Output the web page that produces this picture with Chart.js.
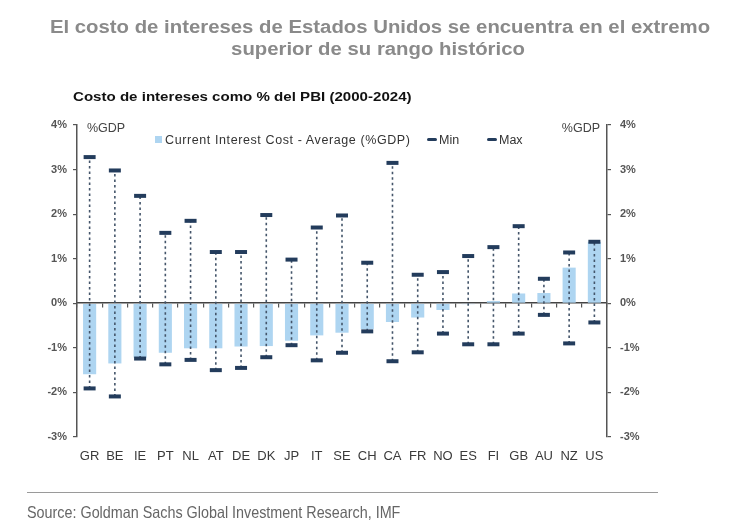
<!DOCTYPE html>
<html>
<head>
<meta charset="utf-8">
<script src="https://cdn.jsdelivr.net/npm/chart.js@4.4.1/dist/chart.umd.min.js"></script>
<style>
  body { margin: 0; background: #fff; font-family: "Liberation Sans", Arial, sans-serif; }
  #wrap { position: relative; width: 730px; height: 521px; overflow: hidden; }
  .t { position: absolute; color: #8a8a8a; font-weight: bold; font-size: 18px; white-space: nowrap;
       transform: translateX(-50%) scaleX(1.13); }
  #t1 { left: 380px; top: 17px; }
  #t2 { left: 378px; top: 39px; }
  #sub { position: absolute; left: 73px; top: 89px; color: #111; font-weight: bold; font-size: 13px;
         white-space: nowrap; transform: scaleX(1.16); transform-origin: left center; }
  #cv { position: absolute; left: 0; top: 0; width: 730px; height: 521px; }
  #legend { position: absolute; top: 133px; left: 155px; font-size: 12.5px; color: #333; white-space: nowrap; }
  #legend span { position: absolute; top: 0; }
  .sq { display: inline-block; width: 7px; height: 7px; background: #aed5f1; margin-right: 3px; vertical-align: 1px; }
  .ds { display: inline-block; width: 10px; height: 3px; border-radius: 1.5px; background: #233c5c; margin-right: 2px; vertical-align: 3px; }
  #rule { position: absolute; left: 27px; top: 492px; width: 631px; height: 0; border-top: 1.5px solid #9a9a9a; }
  #src { position: absolute; left: 27px; top: 503px; color: #666; font-size: 16.5px; white-space: nowrap;
         transform: scaleX(0.87); transform-origin: left center; }
</style>
</head>
<body>
<div id="wrap">
  <div id="cv"><canvas id="myChart"></canvas></div>
  <div class="t" id="t1">El costo de intereses de Estados Unidos se encuentra en el extremo</div>
  <div class="t" id="t2">superior de su rango histórico</div>
  <div id="sub">Costo de intereses como % del PBI (2000-2024)</div>
  <div id="legend">
    <span style="left:0; letter-spacing:0.6px"><i class="sq"></i>Current Interest Cost - Average (%GDP)</span>
    <span style="left:272px"><i class="ds"></i>Min</span>
    <span style="left:332px"><i class="ds"></i>Max</span>
  </div>
  <div id="rule"></div>
  <div id="src">Source: Goldman Sachs Global Investment Research, IMF</div>
</div>
<script>
var countries = ["GR", "BE", "IE", "PT", "NL", "AT", "DE", "DK", "JP", "IT", "SE", "CH", "CA", "FR", "NO", "ES", "FI", "GB", "AU", "NZ", "US"];
var currentVsAvg = [-1.59, -1.35, -1.22, -1.11, -1.01, -1.01, -0.97, -0.96, -0.84, -0.72, -0.66, -0.58, -0.42, -0.32, -0.15, -0.02, 0.05, 0.22, 0.23, 0.80, 1.38];
var minVals = [-1.91, -2.09, -1.24, -1.37, -1.27, -1.50, -1.45, -1.21, -0.94, -1.28, -1.11, -0.63, -1.30, -1.10, -0.68, -0.92, -0.92, -0.68, -0.26, -0.90, -0.43];
var maxVals = [3.28, 2.98, 2.41, 1.58, 1.85, 1.15, 1.15, 1.98, 0.98, 1.70, 1.97, 0.91, 3.15, 0.64, 0.70, 1.06, 1.26, 1.73, 0.55, 1.14, 1.38];
var yTicks = [4, 3, 2, 1, 0, -1, -2, -3];

var navy = "#233c5c";
var barBlue = "#aed5f1";
var axisGrey = "#555";

// dashed range line from min to max, drawn right after the bars
var rangeLines = {
  id: "rangeLines",
  afterDatasetDraw: function(chart, args) {
    if (args.index !== 0) return;
    var ctx = chart.ctx;
    var lo = chart.getDatasetMeta(1).data;
    var hi = chart.getDatasetMeta(2).data;
    ctx.save();
    ctx.strokeStyle = "#44556a";
    ctx.lineWidth = 1.6;
    ctx.setLineDash([2.5, 3]);
    for (var i = 0; i < lo.length; i++) {
      ctx.beginPath();
      ctx.moveTo(lo[i].x, lo[i].y);
      ctx.lineTo(hi[i].x, hi[i].y);
      ctx.stroke();
    }
    ctx.restore();
  }
};

// "%GDP" unit labels in the top corners of the plot
var unitLabels = {
  id: "unitLabels",
  afterDraw: function(chart) {
    var a = chart.chartArea, ctx = chart.ctx;
    ctx.save();
    ctx.font = "12.5px 'Liberation Sans', Arial";
    ctx.fillStyle = "#444";
    ctx.textBaseline = "middle";
    ctx.textAlign = "left";
    ctx.fillText("%GDP", a.left + 10, a.top + 4);
    ctx.textAlign = "right";
    ctx.fillText("%GDP", a.right - 7, a.top + 4);
    ctx.restore();
  }
};

var tickFont = { family: "'Liberation Sans', Arial", size: 11, weight: "bold" };

function yAxis(pos) {
  return {
    position: pos,
    min: -3, max: 4,
    afterBuildTicks: function(s) { s.ticks = yTicks.map(function(v) { return { value: v }; }); },
    afterFit: function(s) { s.width = pos === "left" ? 77 : 123; },
    border: { display: true, color: axisGrey, width: 1.5 },
    grid: { drawOnChartArea: false, color: axisGrey, tickLength: 4, lineWidth: 1.2 },
    ticks: {
      color: "#555", font: tickFont, padding: pos === "left" ? 6 : 9,
      callback: function(v) { return v + "%"; }
    }
  };
}

new Chart("myChart", {
  type: "bar",
  data: {
    labels: countries,
    datasets: [
      {
        label: "Current Interest Cost - Average (%GDP)",
        data: currentVsAvg,
        backgroundColor: barBlue,
        barPercentage: 0.52,
        categoryPercentage: 1,
        order: 3
      },
      {
        type: "line",
        label: "Min",
        data: minVals,
        showLine: false,
        pointStyle: "line",
        pointRadius: 6,
        pointHoverRadius: 6,
        borderColor: navy,
        backgroundColor: navy,
        borderWidth: 4,
        order: 2
      },
      {
        type: "line",
        label: "Max",
        data: maxVals,
        showLine: false,
        pointStyle: "line",
        pointRadius: 6,
        pointHoverRadius: 6,
        borderColor: navy,
        backgroundColor: navy,
        borderWidth: 4,
        order: 1
      }
    ]
  },
  options: {
    responsive: true,
    maintainAspectRatio: false,
    animation: false,
    layout: { padding: { top: 125, left: 0, right: 0, bottom: 0 } },
    plugins: {
      legend: { display: false },
      title: { display: false },
      tooltip: { enabled: false }
    },
    scales: {
      x: {
        position: "bottom",
        afterFit: function(s) { s.height = 84; },
        border: { display: false },
        grid: { display: false },
        ticks: { color: "#3a3a3a", font: { family: "'Liberation Sans', Arial", size: 13 }, padding: 4, autoSkip: false, maxRotation: 0 }
      },
      x0: {
        type: "category",
        position: { y: 0 },
        offset: true,
        border: { display: true, color: "#444", width: 1.6 },
        grid: { offset: true, drawOnChartArea: false, color: axisGrey, tickLength: 4, lineWidth: 1.2 },
        ticks: { display: false }
      },
      y: yAxis("left"),
      y2: yAxis("right")
    }
  },
  plugins: [rangeLines, unitLabels]
});
</script>
</body>
</html>
